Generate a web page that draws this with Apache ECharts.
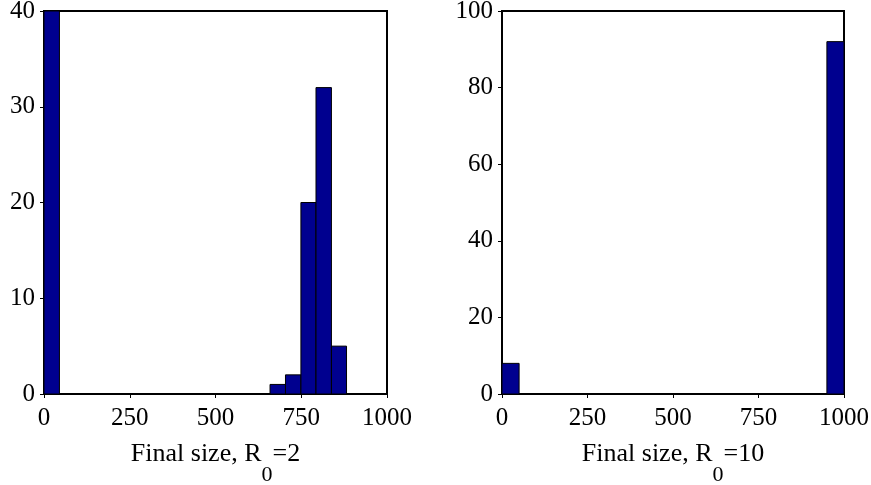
<!DOCTYPE html>
<html>
<head>
<meta charset="utf-8">
<script src="https://cdn.jsdelivr.net/npm/echarts@6/dist/echarts.min.js"></script>
<style>
  html, body { margin: 0; padding: 0; background: #fff; }
  #chart { width: 871px; height: 485px; }
</style>
</head>
<body>
<div id="chart"></div>
<script>
// histogram bins: [binStart, binEnd, count]
const binsR2 = [
  [0, 45, 40],
  [659, 704, 1],
  [704, 749, 2],
  [749, 793, 20],
  [793, 838, 32],
  [838, 882, 5]
];
const binsR10 = [
  [0, 50, 8],
  [950, 1000, 92]
];
const xTicks = [0, 250, 500, 750, 1000];
const yMaxR2 = 40;
const yMaxR10 = 100;
const xNameR2 = ['Final size, R', '0', '=2'];
const xNameR10 = ['Final size, R', '0', '=10'];

const font = 'Liberation Serif';
const barColor = '#00008f';

function renderBar(params, api) {
  const topLeft = api.coord([api.value(0), api.value(2)]);
  const bottomRight = api.coord([api.value(1), 0]);
  return {
    type: 'rect',
    shape: {
      x: topLeft[0],
      y: topLeft[1],
      width: bottomRight[0] - topLeft[0],
      height: bottomRight[1] - topLeft[1]
    },
    style: { fill: barColor, stroke: '#000', lineWidth: 1 }
  };
}

function bottomAxis(grid, nameParts) {
  return {
    type: 'value',
    gridIndex: grid,
    min: xTicks[0],
    max: xTicks[xTicks.length - 1],
    interval: xTicks[1] - xTicks[0],
    axisLine: { show: false },
    axisTick: { show: false },
    splitLine: { show: false },
    axisLabel: {
      color: '#000', fontFamily: font, fontSize: 25, margin: 12,
      formatter: (v) => String(v)
    },
    name: '{a|' + nameParts[0] + '}{s|' + nameParts[1] + '}{a|' + nameParts[2] + '}',
    nameLocation: 'middle',
    nameGap: 47,
    nameMoveOverlap: false,
    nameTextStyle: {
      verticalAlign: 'top',
      rich: {
        // tall line so the subscript can sit at its bottom
        a: { color: '#000', fontFamily: font, fontSize: 26, lineHeight: 45, verticalAlign: 'top' },
        s: { color: '#000', fontFamily: font, fontSize: 22, lineHeight: 22, verticalAlign: 'bottom' }
      }
    }
  };
}

// only tick marks on the top edge
function topAxis(grid) {
  return {
    type: 'value',
    gridIndex: grid,
    position: 'top',
    min: xTicks[0],
    max: xTicks[xTicks.length - 1],
    interval: xTicks[1] - xTicks[0],
    axisLine: { show: false },
    axisTick: { show: true, inside: true, length: 4, lineStyle: { color: '#000', width: 1 } },
    axisLabel: { show: false },
    splitLine: { show: false }
  };
}

function leftAxis(grid, max, step) {
  return {
    type: 'value',
    gridIndex: grid,
    min: 0,
    max: max,
    interval: step,
    axisLine: { show: false },
    axisTick: { show: false },
    splitLine: { show: false },
    axisLabel: { color: '#000', fontFamily: font, fontSize: 25, margin: 9 }
  };
}

function rightAxis(grid, max, step) {
  return {
    type: 'value',
    gridIndex: grid,
    position: 'right',
    min: 0,
    max: max,
    interval: step,
    axisLine: { show: false },
    axisTick: { show: true, inside: true, length: 4, lineStyle: { color: '#000', width: 1 } },
    axisLabel: { show: false },
    splitLine: { show: false }
  };
}

const myChart = echarts.init(document.getElementById('chart'));
const option = {
  animation: false,
  backgroundColor: '#fff',
  grid: [
    { left: 44, top: 11, width: 343, height: 383, outerBoundsMode: 'none', containLabel: false, show: true, borderColor: '#000', borderWidth: 2, backgroundColor: 'transparent' },
    { left: 502, top: 11, width: 342, height: 383, outerBoundsMode: 'none', containLabel: false, show: true, borderColor: '#000', borderWidth: 2, backgroundColor: 'transparent' }
  ],
  xAxis: [
    bottomAxis(0, xNameR2),
    bottomAxis(1, xNameR10),
    topAxis(0),
    topAxis(1)
  ],
  yAxis: [
    leftAxis(0, yMaxR2, 10),
    leftAxis(1, yMaxR10, 20),
    rightAxis(0, yMaxR2, 10),
    rightAxis(1, yMaxR10, 20)
  ],
  series: [
    {
      type: 'custom',
      xAxisIndex: 0,
      yAxisIndex: 0,
      renderItem: renderBar,
      encode: { x: [0, 1], y: 2 },
      data: binsR2
    },
    {
      type: 'custom',
      xAxisIndex: 1,
      yAxisIndex: 1,
      renderItem: renderBar,
      encode: { x: [0, 1], y: 2 },
      data: binsR10
    }
  ]
};
myChart.setOption(option);
</script>
</body>
</html>
